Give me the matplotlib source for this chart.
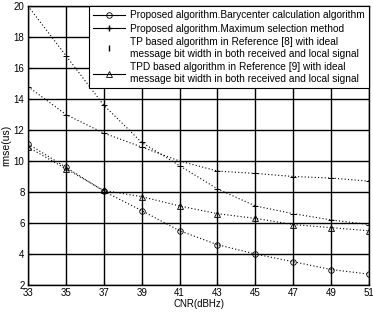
import matplotlib
matplotlib.use("Agg")
import matplotlib.pyplot as plt
from matplotlib.lines import Line2D

plt.rcParams['font.family'] = ['Liberation Sans', 'DejaVu Sans']

cnr = [33, 35, 37, 39, 41, 43, 45, 47, 49, 51]
bary = [11.1, 9.6, 8.05, 6.8, 5.5, 4.6, 4.0, 3.5, 3.0, 2.7]
maxsel = [14.8, 13.0, 11.8, 10.9, 10.0, 9.35, 9.2, 9.0, 8.9, 8.7]
tp = [20.0, 16.8, 13.6, 11.2, 9.7, 8.2, 7.1, 6.6, 6.2, 5.9]
tpd = [10.9, 9.5, 8.1, 7.7, 7.1, 6.6, 6.3, 5.9, 5.7, 5.5]

labels = [
    "Proposed algorithm.Barycenter calculation algorithm",
    "Proposed algorithm.Maximum selection method",
    "TP based algorithm in Reference [8] with ideal\nmessage bit width in both received and local signal",
    "TPD based algorithm in Reference [9] with ideal\nmessage bit width in both received and local signal",
]
xticks = [33, 35, 37, 39, 41, 43, 45, 47, 49, 51]
yticks = [2, 4, 6, 8, 10, 12, 14, 16, 18, 20]

fig = plt.figure(figsize=(3.73, 3.12), dpi=100)
ax = fig.add_axes([28/373, 27/312, 341/373, 279/312])

kw = dict(color='black', linewidth=0.8, markersize=5, markeredgewidth=0.7)
ax.plot(cnr, bary, linestyle=(0, (1, 2)), marker='o', markerfacecolor='none', markersize=4, color='black', linewidth=0.8, markeredgewidth=0.6)
ax.plot(cnr, maxsel, linestyle=(0, (1, 2)), marker='+', **kw)
ax.plot(cnr, tp, linestyle=(0, (1, 2)), marker='+', **kw)
ax.plot(cnr, tpd, linestyle=(0, (1, 2)), marker='^', markerfacecolor='none', color='black', linewidth=0.8, markersize=4, markeredgewidth=0.6)

ax.set_xlim(33, 51)
ax.set_ylim(2, 20)
ax.set_xticks(xticks)
ax.set_yticks(yticks)
ax.grid(True, color='black', linewidth=1.0, linestyle='-')
ax.tick_params(direction='in', labelsize=7, length=3)
ax.tick_params(axis='x', pad=2.5)
ax.tick_params(axis='y', pad=2.5)
for s in ax.spines.values():
    s.set_linewidth(1.0)
ax.set_xlabel("CNR(dBHz)", fontsize=7, labelpad=0.5)
ax.set_ylabel("rmse(us)", fontsize=7.5, labelpad=2)

handles = [
    Line2D([], [], color='black', linewidth=0.8, marker='o', markerfacecolor='none', markersize=4, markeredgewidth=0.6),
    Line2D([], [], color='black', linewidth=0.8, marker='+', markersize=5),
    Line2D([], [], color='black', linewidth=0, marker='|', markersize=5),
    Line2D([], [], color='black', linewidth=0.8, marker='^', markerfacecolor='none', markersize=4, markeredgewidth=0.6),
]
leg = ax.legend(handles, labels, loc='upper right', fontsize=7.3, frameon=True, fancybox=False,
                edgecolor='black', framealpha=1, borderpad=0.4, handlelength=3.2,
                handletextpad=0.5, labelspacing=0.35, borderaxespad=0)
leg.get_frame().set_linewidth(0.8)

fig.savefig("out.png", dpi=100)
